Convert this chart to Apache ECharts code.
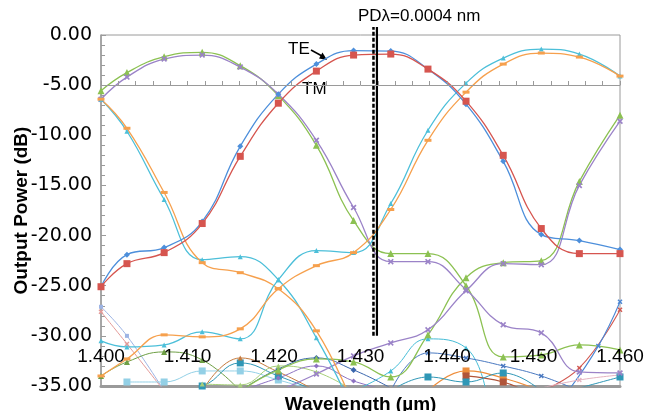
<!DOCTYPE html>
<html lang="en">
  <head>
    <meta charset="UTF-8" />
    <title>Output Power vs Wavelength</title>
    <script src="https://cdn.jsdelivr.net/npm/echarts@6/dist/echarts.min.js"></script>
    <style>
      body { margin: 0; background: #fff; }
    </style>
  </head>
  <body>
    <div id="main" style="width: 645px; height: 411px"></div>
    <script type="text/javascript">
      // wavelengths (um) where the simulation markers sit
      const wl = [1.400, 1.403, 1.4073, 1.4117, 1.4161, 1.4205, 1.4249, 1.4292, 1.4335, 1.4378, 1.4422, 1.4465, 1.4509, 1.4553, 1.460];

      // main outputs (dB), one value per wl entry
      const teBar = [-25.1, -21.9, -21.2, -18.6, -11.1, -5.9, -2.9, -1.55, -1.6, -3.4, -6.9, -12.6, -19.9, -20.5, -21.4];
      const tmBar = [-25.1, -22.8, -21.7, -18.8, -12.1, -6.8, -3.6, -2.0, -1.9, -3.4, -6.6, -12.0, -19.3, -21.8, -21.8];
      const greenA = [-5.55, -3.75, -2.16, -1.73, -3.06, -6.05, -11.0, -18.5, -21.8, -21.8, -25.0, -32.1, -31.9, -30.9, -31.4];
      const purpleA = [-6.4, -4.2, -2.4, -2.0, -3.2, -5.9, -10.5, -17.2, -22.6, -22.6, -25.4, -28.9, -29.7, -33.6, -33.7];
      const cyanB = [-30.5, -31.1, -30.9, -29.6, -30.3, -24.4, -21.5, -21.7, -16.8, -9.5, -4.8, -2.3, -1.4, -1.9, -4.1];
      const orangeB = [-34.0, -32.3, -29.9, -30.1, -29.3, -25.3, -23.0, -21.7, -17.4, -10.5, -5.7, -2.9, -1.8, -2.2, -4.1];
      // these start partway (first index into wl given separately)
      const cyanA = [-6.4, -9.6, -16.4, -22.4, -22.1, -24.4, -30.2, -37.5];
      const orangeA = [-6.4, -9.3, -15.7, -22.7, -23.7, -25.3, -29.5, -37.0];
      const greenB = [-35.5, -33.4, -32.3, -32.6, -34.1, -29.9, -24.2, -22.7, -22.5, -14.6, -8.0]; // from wl[4]
      const purpleB = [-35.5, -33.8, -32.0, -30.7, -29.4, -25.5, -22.8, -22.9, -15.0, -8.6]; // from wl[5]

      // crosstalk curves near the floor, [wavelength, dB]
      const xtLavender = [[1.400, -27.1], [1.403, -30.0], [1.4073, -35.5]];
      const xtPink = [[1.400, -27.6], [1.403, -30.8], [1.4073, -35.5]];
      const xtDarkGreen = [[1.400, -34.0], [1.403, -32.6], [1.4073, -31.6], [1.4117, -32.4], [1.4161, -35.5]];
      const xtLightBlue = [[1.403, -34.6], [1.4073, -34.6], [1.4117, -33.5], [1.4161, -33.5], [1.4205, -34.4], [1.4249, -35.5]];
      const xtTeal = [[1.4073, -35.5], [1.4117, -35.0], [1.4161, -32.7], [1.4205, -34.0], [1.4249, -35.5]];
      const xtBrown = [[1.4117, -35.5], [1.4161, -32.2], [1.4205, -33.6], [1.4249, -35.5]];
      const xtNavy = [[1.4161, -35.5], [1.4205, -33.3], [1.4249, -32.2], [1.4292, -33.4], [1.4335, -35.2]];
      const xtLightGreen = [[1.4117, -34.8], [1.4161, -34.9], [1.4205, -33.0], [1.4249, -33.6], [1.4292, -35.5]];
      const xtViolet = [[1.4161, -35.5], [1.4205, -34.2], [1.4249, -33.0], [1.4292, -34.5], [1.4335, -35.5]];
      const xtCyanArch = [[1.4292, -35.5], [1.4335, -33.5], [1.4378, -30.3], [1.4422, -31.2], [1.4445, -35.5]];
      const xtNavyArch = [[1.4335, -35.5], [1.4378, -31.7], [1.4422, -32.2], [1.4465, -33.0], [1.4509, -34.0], [1.4553, -35.5]];
      const xtOrangeSq = [[1.4378, -35.5], [1.4422, -33.5], [1.4465, -34.2], [1.4509, -35.5]];
      const xtBrownSq = [[1.4422, -34.0], [1.4465, -34.6], [1.4490, -35.5]];
      const xtTealSq = [[1.4335, -35.5], [1.4378, -34.1], [1.4422, -34.6], [1.4465, -33.7], [1.4509, -35.5]];
      const xtRedRise = [[1.4509, -35.5], [1.4553, -33.2], [1.460, -27.4]];
      const xtBlueRise = [[1.4540, -35.5], [1.4575, -31.0], [1.460, -26.6]];
      const xtPinkRight = [[1.4509, -35.2], [1.4553, -34.4], [1.460, -33.9]];
      const xtTealRight = [[1.4553, -35.2], [1.460, -34.1]];

      // polarisation-dependent shift markers
      const pdLeft = 1.4315;
      const pdRight = 1.4319;

      const yTicks = { min: -35, max: 0, step: 5 };

      const crossPath = "path://M2,0L5,3L8,0L10,2L7,5L10,8L8,10L5,7L2,10L0,8L3,5L0,2Z";
      const dashPath = "path://M0,0H10V4H0Z";

      function pairs(values, start) {
        return values.map((v, i) => [wl[start + i], v]);
      }

      function curve(data, color, symbol, size, width) {
        return {
          type: "line",
          data: data,
          smooth: 0.45,
          symbol: symbol,
          symbolSize: size,
          showSymbol: true,
          lineStyle: { color: color, width: width || 1.3 },
          itemStyle: { color: color },
          emphasis: { disabled: true },
          z: 2,
        };
      }

      let series = [
        curve(xtLavender, "#9db4e4", "rect", 4, 1),
        curve(xtPink, "#e39a98", crossPath, 5, 1),
        curve(xtDarkGreen, "#6e9f45", "triangle", 6, 1),
        curve(xtLightBlue, "#93d0e6", "rect", 7, 1),
        curve(xtTeal, "#2f97b6", "rect", 7, 1),
        curve(xtBrown, "#c47a3e", "triangle", 5, 1),
        curve(xtNavy, "#3a66ad", "diamond", 6, 1),
        curve(xtLightGreen, "#a7cf7a", "triangle", 5, 1),
        curve(xtViolet, "#8d72c2", "diamond", 5, 1),
        curve(xtCyanArch, "#45bcd6", "triangle", 5, 1),
        curve(xtNavyArch, "#4a79c0", crossPath, 5, 1),
        curve(xtOrangeSq, "#ee8e3c", "rect", 7, 1.2),
        curve(xtBrownSq, "#b0553a", "rect", 7, 1.2),
        curve(xtTealSq, "#2f97b6", "rect", 7, 1),
        curve(xtRedRise, "#d2574f", crossPath, 5, 1.1),
        curve(xtBlueRise, "#4a86d4", crossPath, 5, 1.1),
        curve(xtPinkRight, "#e4b3c0", crossPath, 5, 1),
        curve(xtTealRight, "#2f97b6", "rect", 7, 1),

        curve(pairs(greenB, 4), "#8cc152", "triangle", 7),
        curve(pairs(purpleB, 5), "#9b83c8", crossPath, 6),
        curve(pairs(greenA, 0), "#8cc152", "triangle", 7),
        curve(pairs(purpleA, 0), "#9b83c8", crossPath, 6),
        curve(pairs(cyanA, 0), "#4cbfd9", "triangle", 5),
        curve(pairs(orangeA, 0), "#f6a04d", dashPath, [7, 3]),
        curve(pairs(cyanB, 0), "#4cbfd9", "triangle", 5),
        curve(pairs(orangeB, 0), "#f6a04d", dashPath, [7, 3]),
        curve(pairs(teBar, 0), "#4d8fdb", "diamond", 6),
        curve(pairs(tmBar, 0), "#d6554f", "rect", 7),
      ];

      // the two vertical PD lines, drawn through the axes and allowed past the top
      series.push({
        type: "line",
        data: [[pdLeft, -30], [pdLeft, 0.8]],
        symbol: "none",
        clip: false,
        lineStyle: { color: "#000", width: 2.5, type: [4, 2] },
        z: 5,
      });
      series.push({
        type: "line",
        data: [[pdRight, -30], [pdRight, 0.8]],
        symbol: "none",
        clip: false,
        lineStyle: { color: "#000", width: 2.2 },
        z: 5,
      });

      let options = {
        animation: false,
        backgroundColor: "#fff",
        grid: {
          left: 101,
          right: 25,
          top: 35,
          bottom: 25,
          outerBoundsMode: "none",
          containLabel: false,
          show: true,
          borderColor: "#9a9a9a",
          borderWidth: 1,
        },
        xAxis: [
          {
            type: "value",
            min: 1.4,
            max: 1.46,
            interval: 0.01,
            position: "bottom",
            offset: -50,
            z: 6,
            axisLine: { show: true, lineStyle: { color: "#9a9a9a", width: 1 } },
            axisTick: { show: true, inside: true, length: 4, lineStyle: { color: "#9a9a9a" } },
            minorTick: { show: true, splitNumber: 5, length: 4, lineStyle: { color: "#9a9a9a" } },
            splitLine: { show: false },
            axisLabel: {
              margin: 11,
              color: "#000",
              fontSize: 19,
              fontFamily: "Liberation Sans, Arial, sans-serif",
              formatter: (v) => v.toFixed(3),
            },
          },
          {
            type: "value",
            min: 1.4,
            max: 1.46,
            position: "bottom",
            offset: 0,
            axisLine: { show: true, lineStyle: { color: "#9a9a9a", width: 3 } },
            axisTick: { show: false },
            axisLabel: { show: false },
            splitLine: { show: false },
            name: "Wavelength (\u00b5m)",
            nameLocation: "middle",
            nameGap: 9,
            nameTextStyle: {
              color: "#000",
              fontSize: 19,
              fontWeight: "bold",
              fontFamily: "Liberation Sans, Arial, sans-serif",
              verticalAlign: "top",
            },
          },
        ],
        yAxis: {
          type: "value",
          min: yTicks.min,
          max: yTicks.max,
          interval: yTicks.step,
          axisLine: { show: true, lineStyle: { color: "#9a9a9a", width: 1.5 } },
          axisTick: { show: true, inside: true, length: 5, lineStyle: { color: "#9a9a9a" } },
          minorTick: { show: true, splitNumber: 5, length: 4, lineStyle: { color: "#9a9a9a" } },
          splitLine: { show: false },
          axisLabel: {
            margin: 9,
            color: "#000",
            fontSize: 19,
            fontFamily: "DejaVu Sans, sans-serif",
            formatter: (v) => v.toFixed(2),
          },
          name: "Output Power (dB)",
          nameLocation: "middle",
          nameRotate: 90,
          nameGap: 70,
          nameMoveOverlap: false,
          nameTextStyle: {
            color: "#000",
            fontSize: 19,
            fontWeight: "bold",
            fontFamily: "Liberation Sans, Arial, sans-serif",
          },
        },
        graphic: [
          {
            type: "text",
            left: 358,
            top: 8,
            style: { text: "PD\u03bb=0.0004 nm", fill: "#000", font: "17px 'Liberation Sans', Arial, sans-serif" },
          },
          {
            type: "text",
            left: 288,
            top: 41,
            style: { text: "TE", fill: "#000", font: "17px 'Liberation Sans', Arial, sans-serif" },
          },
          {
            type: "text",
            left: 302,
            top: 81,
            style: { text: "TM", fill: "#000", font: "17px 'Liberation Sans', Arial, sans-serif" },
          },
          {
            type: "line",
            shape: { x1: 311, y1: 50, x2: 322, y2: 56 },
            style: { stroke: "#000", lineWidth: 1.5 },
          },
          {
            type: "polygon",
            shape: { points: [[327, 60], [319, 58.5], [322.5, 52.5]] },
            style: { fill: "#000" },
          },
        ],
        series: series,
      };

      let myChart = echarts.init(document.getElementById("main"));
      myChart.setOption(options);
    </script>
  </body>
</html>
